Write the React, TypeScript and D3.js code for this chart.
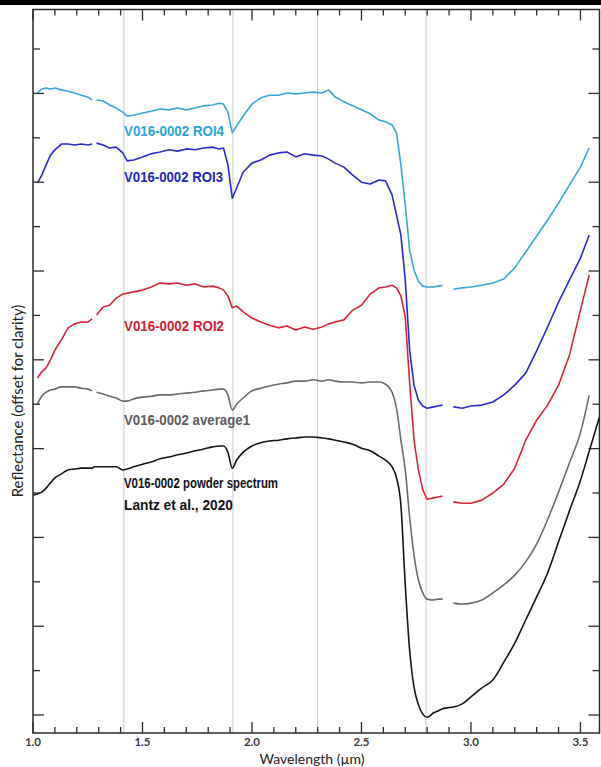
import React from "react";
import * as d3 from "d3";

// wavelength grid (µm) shared by all spectra; null = gap in the measured spectrum
const wavelengths = [
  1.0, 1.02, 1.04, 1.06, 1.08, 1.1,
  1.13, 1.16, 1.19, 1.22, 1.25,
  1.27, 1.28, 1.29,
  1.32, 1.35, 1.38, 1.41, 1.43, 1.46,
  1.5, 1.54, 1.58, 1.62, 1.66, 1.7, 1.74, 1.78, 1.82,
  1.85, 1.87, 1.89, 1.91, 1.93, 1.96,
  2.0, 2.04, 2.08, 2.12, 2.16, 2.2, 2.24, 2.28, 2.32,
  2.35, 2.38, 2.42, 2.46, 2.5, 2.54, 2.58,
  2.61, 2.64, 2.66, 2.68, 2.7, 2.72, 2.74, 2.76, 2.78, 2.8,
  2.83, 2.85, 2.87, 2.89,
  2.92, 2.96, 3.0, 3.05, 3.1, 3.15, 3.2,
  3.25, 3.3, 3.35, 3.4, 3.45, 3.5, 3.54, 3.587,
];

const roi4 = [
  null, 1.401, 1.41, 1.412, 1.41, 1.412,
  1.408, 1.405, 1.401, 1.396, 1.392,
  1.385, null, 1.385,
  1.383, 1.374, 1.367, 1.358, 1.349, 1.351,
  1.356, 1.36, 1.365, 1.363, 1.367, 1.363, 1.367, 1.372, 1.374,
  1.378, 1.376, 1.358, 1.311, 1.327, 1.349,
  1.376, 1.39, 1.396, 1.396, 1.401, 1.399, 1.401, 1.403, 1.401,
  1.408, 1.392, 1.381, 1.372, 1.363, 1.354, 1.34,
  1.336, 1.329, 1.311, 1.239, 1.149, 1.047, 1.002, 0.977, 0.966, 0.964,
  0.964, 0.966, 0.968, null,
  0.959, 0.962, 0.964, 0.968, 0.973, 0.982, 1.007,
  1.043, 1.079, 1.115, 1.153, 1.194, 1.234, 1.277, null,
];

const roi3 = [
  null, 1.198, 1.216, 1.239, 1.261, 1.273,
  1.286, 1.286, 1.284, 1.286, 1.284,
  1.286, null, 1.288,
  1.284, 1.277, 1.279, 1.266, 1.248, 1.25,
  1.257, 1.264, 1.268, 1.273, 1.27, 1.275, 1.273, 1.277, 1.279,
  1.275, 1.277, 1.239, 1.164, 1.187, 1.223,
  1.243, 1.25, 1.261, 1.266, 1.268, 1.257, 1.264, 1.261, 1.259,
  1.252, 1.243, 1.234, 1.216, 1.2, 1.196, 1.205,
  1.203, 1.171, 1.126, 1.081, 0.98, 0.822, 0.743, 0.709, 0.696, 0.691,
  0.694, 0.696, 0.698, null,
  0.694, 0.691, 0.696, 0.698, 0.705, 0.721, 0.743,
  0.77, 0.82, 0.874, 0.93, 0.98, 1.029, 1.081, null,
];

const roi2 = [
  null, 0.759, 0.773, 0.782, 0.8, 0.822,
  0.845, 0.872, 0.881, 0.885, 0.885,
  0.892, null, 0.901,
  0.919, 0.923, 0.939, 0.948, 0.95, 0.953,
  0.957, 0.964, 0.973, 0.971, 0.973, 0.968, 0.971, 0.964, 0.966,
  0.962, 0.957, 0.944, 0.917, 0.921, 0.908,
  0.894, 0.885, 0.878, 0.872, 0.876, 0.867, 0.874, 0.869, 0.874,
  0.881, 0.885, 0.89, 0.912, 0.923, 0.948, 0.962,
  0.964, 0.968, 0.962, 0.944, 0.896, 0.748, 0.619, 0.552, 0.507, 0.486,
  0.489, 0.491, 0.493, null,
  0.48, 0.477, 0.477, 0.484, 0.5, 0.52, 0.556,
  0.619, 0.664, 0.698, 0.743, 0.811, 0.912, 0.991, null,
];

const average1 = [
  null, 0.7, 0.718, 0.727, 0.732, 0.734,
  0.739, 0.739, 0.739, 0.736, 0.734,
  0.73, null, 0.727,
  0.723, 0.718, 0.714, 0.707, 0.707, 0.712,
  0.716, 0.718, 0.721, 0.721, 0.723, 0.725, 0.727, 0.73, 0.732,
  0.734, 0.734, 0.721, 0.687, 0.7, 0.714,
  0.73, 0.736, 0.741, 0.745, 0.748, 0.752, 0.752, 0.755, 0.752,
  0.755, 0.752, 0.75, 0.75, 0.748, 0.75, 0.75,
  0.745, 0.727, 0.691, 0.619, 0.552, 0.446, 0.36, 0.304, 0.275, 0.261,
  0.259, 0.261, 0.261, null,
  0.252, 0.25, 0.252, 0.259, 0.275, 0.293, 0.315,
  0.345, 0.385, 0.44, 0.502, 0.568, 0.636, 0.72, null,
];

const powder = [
  0.495, 0.498, 0.502, 0.511, 0.523, 0.534,
  0.543, 0.552, 0.554, 0.556, 0.556,
  0.556, 0.559, 0.559,
  0.559, 0.559, 0.559, 0.552, 0.554, 0.559,
  0.565, 0.57, 0.577, 0.581, 0.586, 0.59, 0.595, 0.599, 0.604,
  0.606, 0.606, 0.592, 0.556, 0.574, 0.592,
  0.606, 0.613, 0.617, 0.619, 0.622, 0.624, 0.626, 0.626, 0.624,
  0.622, 0.619, 0.615, 0.61, 0.601, 0.595, 0.583,
  0.574, 0.559, 0.534, 0.473, 0.293, 0.146, 0.063, 0.023, 0.002, -0.005,
  0.005, 0.009, 0.014, 0.016,
  0.018, 0.025, 0.041, 0.061, 0.079, 0.119, 0.162,
  0.214, 0.266, 0.32, 0.39, 0.46, 0.528, 0.594, 0.672,
];

// absorption reference lines (µm)
const refLines = [1.415, 1.913, 2.3, 2.795];

const xTicks = d3.range(10, 36).map((d) => d / 10);
const xTickLabels = ["1.0", "1.5", "2.0", "2.5", "3.0", "3.5"];
const yTicks = d3.range(0, 16).map((d) => d / 10);

const seriesNames = [
  "V016-0002 ROI4",
  "V016-0002 ROI3",
  "V016-0002 ROI2",
  "V016-0002 average1",
  "V016-0002 powder spectrum",
];
const seriesValues = [roi4, roi3, roi2, average1, powder];

const lineColors = ["#36a8dc", "#2a2ad2", "#d8253a", "#6a6a6a", "#141414"];
const textColors = ["#2ba4db", "#2424c8", "#d21e30", "#5c5c5c", "#111111"];
// label anchor: [x px, baseline px, text width px]
const labelPos = [
  [124, 136, 100],
  [124, 182, 99],
  [124, 331, 100],
  [124, 425, 126],
  [124, 488, 154],
];

export default function App() {
  const W = 601;
  const H = 767;
  const left = 33,
    right = 599.5,
    top = 9.5,
    bottom = 733;

  const x = d3.scaleLinear().domain([1.0, 3.587]).range([left, right]);
  const y = d3.scaleLinear().domain([-0.0405, 1.589]).range([bottom, top]);

  const makeLine = (i: number) =>
    d3
      .line<number>()
      .defined((d) => d !== null)
      .x((_, j) => x(wavelengths[j]))
      .y((d) => y(d as number))
      .curve(i >= 3 ? d3.curveMonotoneX : d3.curveLinear);

  const labelFont = "'Liberation Sans Narrow', 'Liberation Sans', Arial, sans-serif";

  return (
    <svg
      width={W}
      height={H}
      style={{ position: "absolute", left: 0, top: 0, background: "#fff" }}
    >
      <rect x={0} y={0} width={W} height={5} fill="#000" />

      {refLines.map((w) => (
        <line
          key={w}
          x1={x(w)}
          x2={x(w)}
          y1={top}
          y2={bottom}
          stroke="#c8c8c8"
          strokeWidth={1}
        />
      ))}

      {seriesValues.map((vals, i) => (
        <path
          key={i}
          d={makeLine(i)(vals as number[]) || ""}
          fill="none"
          stroke={lineColors[i]}
          strokeWidth={1.6}
          strokeLinejoin="round"
        />
      ))}

      {/* frame */}
      <rect
        x={left}
        y={top}
        width={right - left}
        height={bottom - top}
        fill="none"
        stroke="#2a2a2a"
        strokeWidth={1.5}
      />

      {xTicks.map((t, i) => {
        const major = i % 5 === 0;
        const len = major ? 11 : 6;
        return (
          <g key={t} stroke="#2a2a2a" strokeWidth={1.3}>
            <line x1={x(t)} x2={x(t)} y1={top} y2={top + len} />
            <line x1={x(t)} x2={x(t)} y1={bottom} y2={bottom - len} />
          </g>
        );
      })}

      {yTicks.map((t, i) => {
        const major = i % 2 === 0;
        const len = major ? 11 : 7;
        return (
          <g key={t} stroke="#2a2a2a" strokeWidth={1.3}>
            <line x1={left} x2={left + len} y1={y(t)} y2={y(t)} />
            <line x1={right} x2={right - len} y1={y(t)} y2={y(t)} />
          </g>
        );
      })}

      {xTickLabels.map((s) => (
        <text
          key={s}
          x={x(+s)}
          y={746}
          textAnchor="middle"
          fontFamily="Lato, 'Open Sans', sans-serif"
          fontWeight="bold"
          fontSize={11.5}
          fill="#3a3a3a"
        >
          {s}
        </text>
      ))}

      <text
        x={312}
        y={764}
        textAnchor="middle"
        fontFamily="Lato, 'Open Sans', sans-serif"
        fontSize={14}
        fill="#222"
      >
        Wavelength (µm)
      </text>

      <text
        transform={`translate(23, 401) rotate(-90)`}
        textAnchor="middle"
        fontFamily="Lato, 'Open Sans', sans-serif"
        fontSize={15}
        fill="#222"
      >
        Reflectance (offset for clarity)
      </text>

      {seriesNames.map((name, i) => (
        <text
          key={name}
          x={labelPos[i][0]}
          y={labelPos[i][1]}
          textLength={labelPos[i][2]}
          lengthAdjust="spacingAndGlyphs"
          fontFamily={labelFont}
          fontWeight="bold"
          fontSize={14}
          fill={textColors[i]}
        >
          {name}
        </text>
      ))}
      <text
        x={124}
        y={510}
        textLength={109}
        lengthAdjust="spacingAndGlyphs"
        fontFamily={labelFont}
        fontWeight="bold"
        fontSize={14}
        fill="#111"
      >
        Lantz et al., 2020
      </text>
    </svg>
  );
}
